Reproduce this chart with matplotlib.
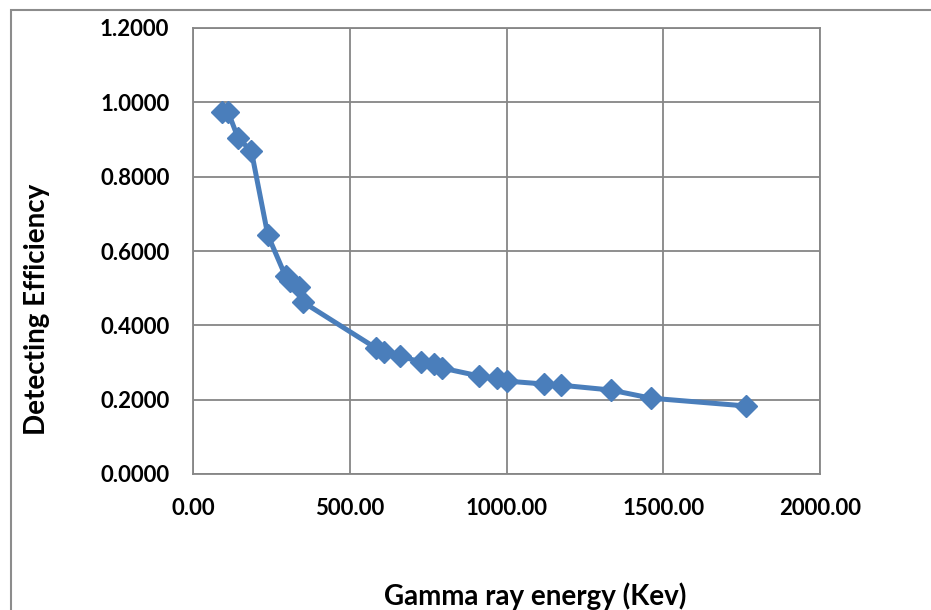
import matplotlib
matplotlib.use("Agg")
import matplotlib.pyplot as plt
from matplotlib.patches import Rectangle

energy = [92.6, 112.0, 143.8, 186.2, 238.6, 295.2, 310.0, 338.3, 351.9,
          583.2, 609.3, 661.7, 727.3, 768.4, 794.9, 911.2, 969.0, 1001.0,
          1120.3, 1173.2, 1332.5, 1460.8, 1764.5]
efficiency = [0.974, 0.974, 0.904, 0.869, 0.643, 0.532, 0.519, 0.503, 0.462,
              0.339, 0.328, 0.317, 0.301, 0.296, 0.285, 0.264, 0.257, 0.250,
              0.242, 0.239, 0.226, 0.204, 0.183]

xticks = [0, 500, 1000, 1500, 2000]
yticks = [0.0, 0.2, 0.4, 0.6, 0.8, 1.0, 1.2]
xlabel = "Gamma ray energy (Kev)"
ylabel = "Detecting Efficiency"

plt.rcParams['font.family'] = ['Lato', 'DejaVu Sans']

fig = plt.figure(figsize=(9.31, 6.10), dpi=100)
fig.patches.append(Rectangle((11/931, -0.1), 1.2, 1 - 10/610 + 0.1,
                             transform=fig.transFigure, fill=False,
                             edgecolor='#8c8c8c', linewidth=1.5))

ax = fig.add_axes([193/931, 1 - 474/610, (820 - 193)/931, (474 - 28)/610])
ax.plot(energy, efficiency, color='#4a7ebb', linewidth=3.6,
        marker='D', markersize=11.5, markerfacecolor='#4a7ebb',
        markeredgecolor='#4a7ebb', zorder=3, clip_on=False)

ax.set_xlim(0, 2000)
ax.set_ylim(0, 1.2)
ax.set_xticks(xticks)
ax.set_yticks(yticks)
ax.set_xticklabels([f"{v:.2f}" for v in xticks])
ax.set_yticklabels([f"{v:.4f}" for v in yticks])
ax.grid(True, color='#868686', linewidth=1.3)
ax.set_axisbelow(True)
for s in ax.spines.values():
    s.set_color('#868686')
    s.set_linewidth(1.3)
ax.tick_params(axis='both', length=0, labelsize=16, colors='black')
ax.tick_params(axis='y', pad=17)
ax.tick_params(axis='x', pad=17)
for lbl in ax.get_xticklabels() + ax.get_yticklabels():
    lbl.set_fontweight('bold')

fig.text(535/931, 1 - 596/610, xlabel, ha='center', va='center',
         fontsize=20, fontweight='bold')
fig.text(37/931, 1 - 309/610, ylabel, ha='center', va='center',
         fontsize=20, fontweight='bold', rotation=90)

fig.savefig("out.png", dpi=100)
